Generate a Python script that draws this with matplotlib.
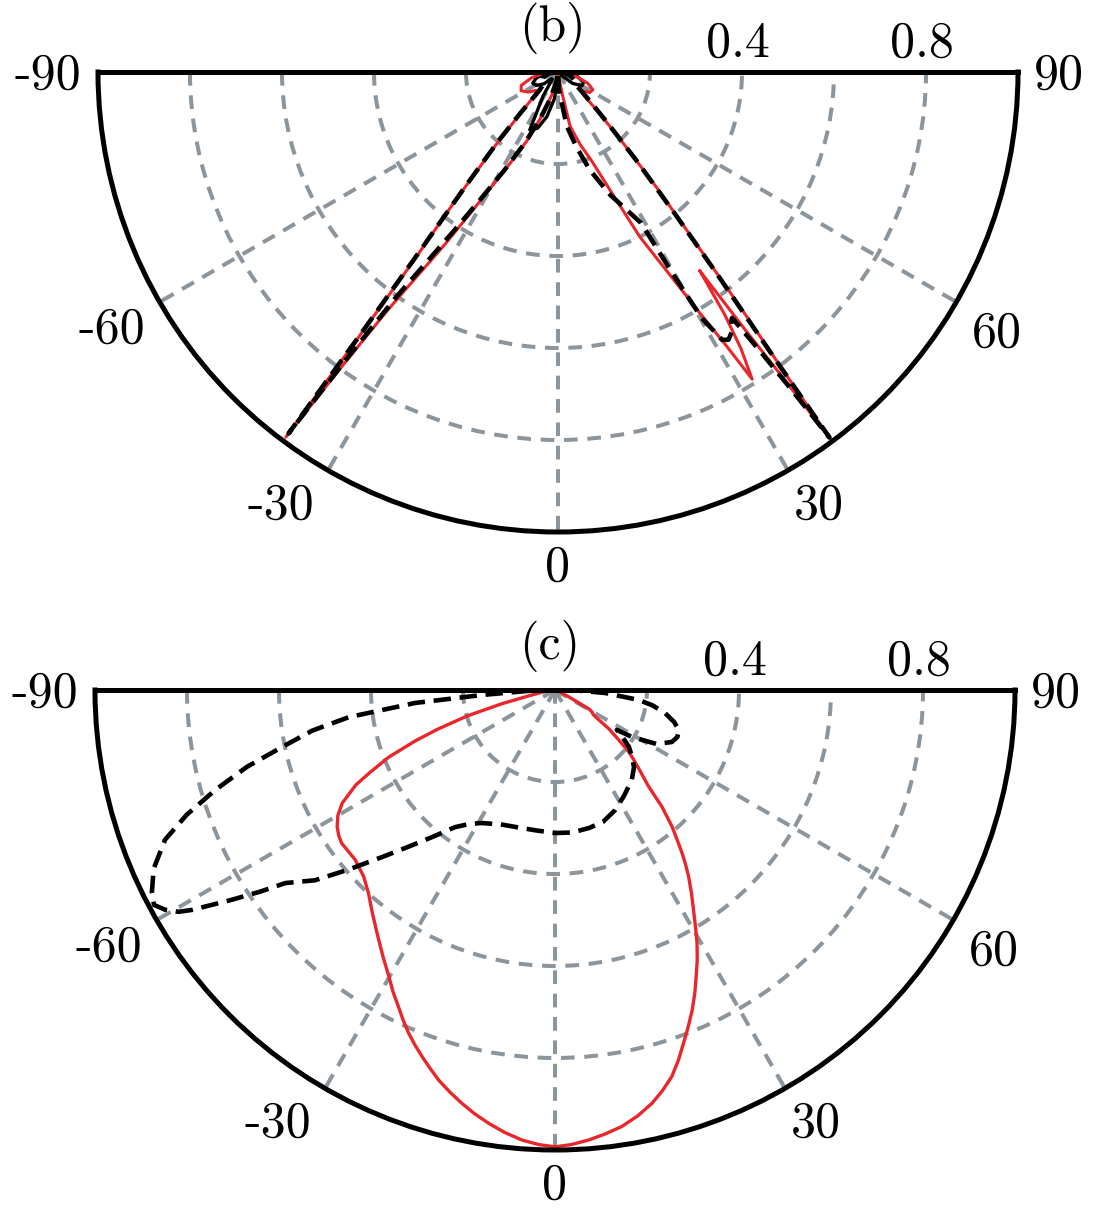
import numpy as np
import matplotlib
matplotlib.use('Agg')
import matplotlib.pyplot as plt

plt.rcParams['font.family'] = 'cmr10'
plt.rcParams['axes.unicode_minus'] = False

# ---- panel (b): angle in degrees, normalised amplitude ----
b_red_theta = [-90, -85, -78, -70, -63, -56, -50, -45, -42, -40.4, -38.6, -37.4, -36.9, -36.7,
               -36.3, -35.6, -34.8, -33.3, -31.8, -30.3, -27.5, -24, -20, -15, -8, 0,
               6, 11, 12.5, 17, 20.6, 24, 26.4, 28.8, 30.5, 31.6, 32.3, 33.5, 34.5, 35.2, 35.5,
               36.0, 36.3, 36.6, 37.0, 37.8, 39, 40.5, 42.5, 45, 48, 52, 57, 63, 69, 75, 82, 90]
b_red_r = [0.0, 0.03, 0.058, 0.085, 0.09, 0.078, 0.062, 0.07, 0.13, 0.21, 0.36, 0.52, 0.75, 0.99,
           0.80, 0.64, 0.556, 0.45, 0.36, 0.295, 0.22, 0.16, 0.10, 0.05, 0.015, 0.0,
           0.01, 0.05, 0.12, 0.165, 0.204, 0.288, 0.40, 0.50, 0.61, 0.70, 0.79, 0.72, 0.64, 0.56, 0.53,
           0.70, 0.80, 0.99, 0.82, 0.646, 0.46, 0.33, 0.21, 0.13, 0.075, 0.065, 0.082, 0.085, 0.07, 0.045, 0.02, 0.0]

b_dash_theta = [-90, -80, -70, -60, -50, -45, -42.5, -40.8, -39, -37.7, -37.0, -36.7,
                -36.4, -35.7, -34.6, -33.2, -31.5, -28.5, -25, -21, -16, -9, 0,
                3, 9.3, 14, 18, 23, 28.8, 29.6, 30.3, 31.5, 32.5, 33.7, 34.8, 35.3,
                35.9, 36.3, 36.6, 37.1, 38.2, 39.5, 41.5, 44, 48, 54, 62, 72, 82, 90]
b_dash_r = [0.0, 0.02, 0.035, 0.04, 0.04, 0.06, 0.12, 0.20, 0.32, 0.48, 0.70, 0.98,
            0.78, 0.60, 0.50, 0.41, 0.33, 0.24, 0.17, 0.11, 0.06, 0.02, 0.0,
            0.04, 0.12, 0.17, 0.224, 0.29, 0.374, 0.50, 0.62, 0.683, 0.69, 0.68, 0.66, 0.655,
            0.75, 0.85, 0.99, 0.78, 0.56, 0.40, 0.26, 0.16, 0.09, 0.05, 0.04, 0.03, 0.015, 0.0]

b_black_theta = [-90, -82, -74, -66, -58, -50, -44, -38, -32, -26, -20, -14, -8, -3, 0,
                 45, 52, 60, 68, 76, 84, 90]
b_black_r = [0.0, 0.03, 0.05, 0.06, 0.055, 0.04, 0.02, 0.02, 0.06, 0.14, 0.13, 0.10, 0.06, 0.02, 0.0,
             0.01, 0.04, 0.06, 0.06, 0.045, 0.02, 0.0]

# ---- panel (c) ----
c_red_theta = [-90, -88, -82, -78, -75.5, -73.5, -71.5, -70, -68, -66, -64.5, -62, -60, -57.9, -56,
               -54.3, -52, -49.6, -45.7, -42.5, -39.5, -36.2, -33, -30.1, -28.2, -26.3, -24.7,
               -23.1, -21.5, -19.9, -18.2, -16.6, -14.6, -12.7, -10.7, -8.7, -6.5, -4.2, -2, 0,
               2, 4.3, 6.5, 8.7, 11, 13.2, 15, 16.8, 18.4, 20, 21.6, 23.2, 24.7, 26.2, 27.8, 29.3,
               30.7, 32.2, 33.9, 35.6, 36.8, 37.9, 39.2, 40.6, 42.5, 44.1, 46.8, 48.5, 50, 52,
               54.2, 56.5, 57.5, 59, 60.8, 63.4, 70, 80, 90]
c_red_r = [0.0, 0.005, 0.02, 0.05, 0.12, 0.20, 0.27, 0.323, 0.39, 0.44, 0.48, 0.524, 0.545, 0.559, 0.567,
           0.571, 0.57, 0.57, 0.581, 0.60, 0.625, 0.655, 0.688, 0.72, 0.745, 0.768, 0.79,
           0.811, 0.83, 0.848, 0.867, 0.885, 0.904, 0.921, 0.938, 0.953, 0.968, 0.981, 0.989, 0.993,
           0.989, 0.981, 0.971, 0.96, 0.943, 0.923, 0.902, 0.878, 0.849, 0.817, 0.787, 0.757, 0.727, 0.695, 0.663, 0.631,
           0.598, 0.565, 0.532, 0.499, 0.474, 0.45, 0.42, 0.391, 0.344, 0.293, 0.25, 0.228, 0.21, 0.175,
           0.145, 0.105, 0.098, 0.095, 0.085, 0.034, 0.01, 0.0, 0.0]

c_dash_theta = [-90, -88, -86.1, -84.7, -82.5, -80.5, -78.2, -76, -73.6, -71.3, -69, -66, -63.3, -61.8,
                -60.6, -59.5, -58.8, -57, -55.6, -54.4, -51.6, -49, -46, -43, -39.9, -36.1, -32.5,
                -28.8, -22, -16.3, -8, 0, 7, 13.8, 20, 26.6, 33, 40.5, 45.7, 49, 52.4, 55, 57.2,
                58.6, 62, 66, 69, 72.1, 75, 78.2, 81, 83.2, 86.6, 88.5, 90]
c_dash_r = [0.0, 0.06, 0.159, 0.306, 0.452, 0.535, 0.606, 0.69, 0.77, 0.845, 0.908, 0.955, 0.981, 0.989,
            0.973, 0.95, 0.923, 0.837, 0.775, 0.721, 0.666, 0.595, 0.523, 0.465, 0.417, 0.369, 0.345,
            0.33, 0.315, 0.31, 0.308, 0.311, 0.312, 0.309, 0.305, 0.292, 0.275, 0.257, 0.24, 0.222, 0.203, 0.18, 0.16,
            0.196, 0.25, 0.278, 0.285, 0.283, 0.268, 0.244, 0.215, 0.184, 0.109, 0.05, 0.0]

angle_ticks = [-90, -60, -30, 0, 30, 60, 90]
angle_labels = ['-90', '-60', '-30', '0', '30', '60', '90']
radius_labels = ['0.4', '0.8']
radius_label_vals = [0.4, 0.8]

RED = '#e8262b'
GRID = '#8c959b'
FS = 36

# where the angle labels sit (theta in deg, radius)
label_spot = {-90: (-89.6, 1.11), -60: (-60, 1.12), -30: (-32.6, 1.12), 0: (0, 1.078),
              30: (31, 1.1), 60: (59.2, 1.11), 90: (89.6, 1.088)}

W, H = 1096, 1214


def half_polar(fig, left_px, top_px, rad_px, title):
  # polar axes fits its wedge into a square box, so give it a square one
  # centred on the half disc
  mid = top_px + rad_px / 2
  side = 2 * rad_px
  ax = fig.add_axes([left_px / W, (H - mid - rad_px) / H, side / W, side / H], projection='polar')
  ax.set_theta_zero_location('S')
  ax.set_thetamin(-90)
  ax.set_thetamax(90)
  ax.set_ylim(0, 1)
  ax.set_thetagrids([-60, -30, 0, 30, 60], labels=[''] * 5)
  ax.set_rgrids([0.2, 0.4, 0.6, 0.8], labels=[''] * 4)
  ax.grid(True, color=GRID, lw=2.9, ls=(0, (3.4, 2.4)))
  ax.tick_params(length=0)
  for sp in ax.spines.values():
    sp.set_linewidth(3.6)
    sp.set_color('black')
    sp.set_zorder(5)

  for t, lab in zip(angle_ticks, angle_labels):
    th, rr = label_spot[t]
    ax.text(np.deg2rad(th), rr, lab, ha='center', va='center', fontsize=FS)
  for rv, lab in zip(radius_label_vals, radius_labels):
    ax.annotate(lab, xy=(np.pi / 2, rv), xytext=(-3, 20), textcoords='offset points',
                ha='center', va='center', fontsize=FS)
  ax.annotate(title, xy=(0, 0), xytext=(-4, 32), textcoords='offset points',
              ha='center', va='center', fontsize=FS)
  return ax


fig = plt.figure(figsize=(W / 100, H / 100), dpi=100)

ax_b = half_polar(fig, 98, 72, 460, '(b)')
ax_b.plot(np.deg2rad(b_black_theta), b_black_r, color='black', lw=2.4, zorder=2)
ax_b.plot(np.deg2rad(b_red_theta), b_red_r, color=RED, lw=2.2, zorder=3)
ax_b.plot(np.deg2rad(b_dash_theta), b_dash_r, color='black', lw=3.3, ls=(0, (3.8, 1.9)), zorder=4)

ax_c = half_polar(fig, 95, 690, 460, '(c)')
ax_c.plot(np.deg2rad(c_red_theta), c_red_r, color=RED, lw=2.4, zorder=3)
ax_c.plot(np.deg2rad(c_dash_theta), c_dash_r, color='black', lw=3.3, ls=(0, (3.8, 1.9)), zorder=4)

fig.savefig('out.png', dpi=100)
